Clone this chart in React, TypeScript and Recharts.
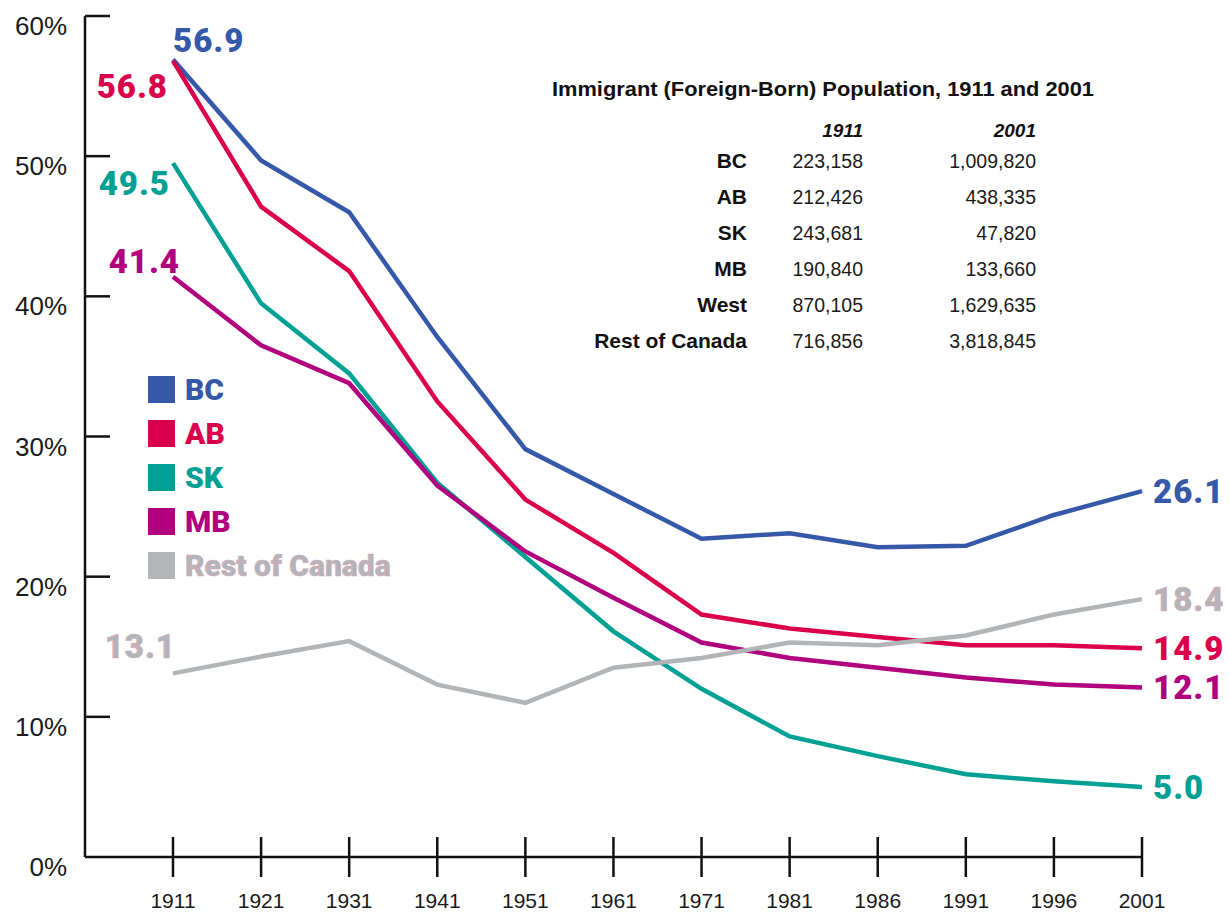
import React from 'react';
import { LineChart, Line, XAxis, YAxis, Legend, LabelList } from 'recharts';

// census years on the x axis
const years = ['1911', '1921', '1931', '1941', '1951', '1961', '1971', '1981', '1986', '1991', '1996', '2001'];

// % of population that is foreign-born
const bc = [56.9, 49.7, 46.0, 37.1, 29.1, 25.9, 22.7, 23.1, 22.1, 22.2, 24.4, 26.1];
const ab = [56.8, 46.4, 41.8, 32.5, 25.5, 21.7, 17.3, 16.3, 15.7, 15.1, 15.1, 14.9];
const sk = [49.5, 39.5, 34.5, 26.7, 21.4, 16.1, 12.0, 8.6, 7.2, 5.9, 5.4, 5.0];
const mb = [41.4, 36.5, 33.8, 26.5, 21.8, 18.5, 15.3, 14.2, 13.5, 12.8, 12.3, 12.1];
const rest = [13.1, 14.3, 15.4, 12.3, 11.0, 13.5, 14.2, 15.3, 15.1, 15.8, 17.3, 18.4];

const yTicks = [0, 10, 20, 30, 40, 50, 60];

// side table
const tableRows = ['BC', 'AB', 'SK', 'MB', 'West', 'Rest of Canada'];
const pop1911 = ['223,158', '212,426', '243,681', '190,840', '870,105', '716,856'];
const pop2001 = ['1,009,820', '438,335', '47,820', '133,660', '1,629,635', '3,818,845'];

const data = years.map((year, i) => ({
  year,
  bc: bc[i],
  ab: ab[i],
  sk: sk[i],
  mb: mb[i],
  rest: rest[i],
}));

const FONT = '"Liberation Sans", Arial, sans-serif';
const HEAVY = 'Roboto, "Liberation Sans", Arial, sans-serif';

const series = [
  { key: 'bc', name: 'BC', color: '#3559a8', first: { dx: 0, dy: -7, anchor: 'start' } },
  { key: 'ab', name: 'AB', color: '#da004c', first: { dx: -5, dy: 37, anchor: 'end' } },
  { key: 'sk', name: 'SK', color: '#00a094', first: { dx: -3, dy: 32, anchor: 'end' } },
  { key: 'mb', name: 'MB', color: '#b0007e', first: { dx: 7, dy: -4, anchor: 'end' } },
  { key: 'rest', name: 'Rest of Canada', color: '#b2b5b8', first: { dx: 3, dy: -15, anchor: 'end' } },
];

const outline = (color: string) => (color === '#b2b5b8' ? '#dba9b9' : 'none');

// only the first and last point of each line get a value label
const endLabel = (s: any) => (props: any) => {
  const { x, y, value, index } = props;
  if (index !== 0 && index !== years.length - 1) return null;
  const isFirst = index === 0;
  return (
    <text
      x={isFirst ? x + s.first.dx : x + 11}
      y={isFirst ? y + s.first.dy : y + 12}
      textAnchor={isFirst ? s.first.anchor : 'start'}
      fill={s.color}
      stroke={outline(s.color)}
      strokeWidth={0.6}
      fontFamily={HEAVY}
      fontWeight={900}
      fontSize={33}
      letterSpacing={1}
    >
      {value.toFixed(1)}
    </text>
  );
};

const XTick = (props: any) => {
  const { x, y, payload } = props;
  return (
    <g>
      <line x1={x} x2={x} y1={y - 20} y2={y + 20} stroke="#111" strokeWidth={2.5} />
      <text x={x} y={y + 51} textAnchor="middle" fontFamily={FONT} fontSize={21} fill="#1a1a1a">
        {payload.value}
      </text>
    </g>
  );
};

const YTick = (props: any) => {
  const { x, y, payload } = props;
  return (
    <g>
      {payload.value > 0 && <line x1={x} x2={x + 25} y1={y} y2={y} stroke="#111" strokeWidth={2.5} />}
      <text x={x - 18} y={y + 19} textAnchor="end" fontFamily={FONT} fontSize={26} fill="#1a1a1a">
        {payload.value}%
      </text>
    </g>
  );
};

const LegendBox = () => (
  <div style={{ display: 'flex', flexDirection: 'column', gap: 17 }}>
    {series.map((s) => (
      <div key={s.key} style={{ display: 'flex', alignItems: 'center', height: 27 }}>
        <div style={{ width: 27, height: 27, background: s.color, marginRight: 10 }} />
        <span
          style={{
            color: s.color,
            fontFamily: HEAVY,
            fontWeight: 900,
            fontSize: 30,
            lineHeight: '27px',
            WebkitTextStroke: s.key === 'rest' ? '0.6px #dba9b9' : undefined,
          }}
        >
          {s.name}
        </span>
      </div>
    ))}
  </div>
);

const PopTable = () => (
  <svg width={1229} height={913} style={{ position: 'absolute', left: 0, top: 0, pointerEvents: 'none' }}>
    <text x={552} y={96} fontFamily={FONT} fontWeight={700} fontSize={20} fill="#111" textLength={542} lengthAdjust="spacingAndGlyphs">
      Immigrant (Foreign-Born) Population, 1911 and 2001
    </text>
    <text x={863} y={137} textAnchor="end" fontFamily={FONT} fontWeight={700} fontStyle="italic" fontSize={19} fill="#111">1911</text>
    <text x={1036} y={137} textAnchor="end" fontFamily={FONT} fontWeight={700} fontStyle="italic" fontSize={19} fill="#111">2001</text>
    {tableRows.map((r, i) => (
      <g key={r}>
        <text x={747} y={168 + i * 36} textAnchor="end" fontFamily={FONT} fontWeight={700} fontSize={21} fill="#111">{r}</text>
        <text x={863} y={168 + i * 36} textAnchor="end" fontFamily={FONT} fontSize={19.5} fill="#1a1a1a">{pop1911[i]}</text>
        <text x={1036} y={168 + i * 36} textAnchor="end" fontFamily={FONT} fontSize={19.5} fill="#1a1a1a">{pop2001[i]}</text>
      </g>
    ))}
  </svg>
);

export default function App() {
  return (
    <div style={{ position: 'absolute', left: 0, top: 0, width: 1229, height: 913, background: '#fff' }}>
      <LineChart width={1229} height={913} data={data} margin={{ top: 16, right: 87, left: 0, bottom: 0 }}>
        <XAxis
          dataKey="year"
          height={56}
          padding={{ left: 88, right: 0 }}
          axisLine={{ stroke: '#111', strokeWidth: 2.5 }}
          tickLine={false}
          tickSize={0}
          tickMargin={0}
          tick={<XTick />}
          interval={0}
        />
        <YAxis
          width={85}
          domain={[0, 60]}
          ticks={yTicks}
          axisLine={{ stroke: '#111', strokeWidth: 2.5 }}
          tickLine={false}
          tickSize={0}
          tickMargin={0}
          tick={<YTick />}
        />
        <Legend
          content={<LegendBox />}
          layout="vertical"
          align="center"
          verticalAlign="middle"
          wrapperStyle={{ position: 'absolute', left: 148, top: 376, width: 300 }}
        />
        {series.map((s) => (
          <Line
            key={s.key}
            type="linear"
            dataKey={s.key}
            name={s.name}
            stroke={s.color}
            strokeWidth={4.5}
            dot={false}
            isAnimationActive={false}
          >
            <LabelList dataKey={s.key} content={endLabel(s)} />
          </Line>
        ))}
      </LineChart>
      <PopTable />
    </div>
  );
}
